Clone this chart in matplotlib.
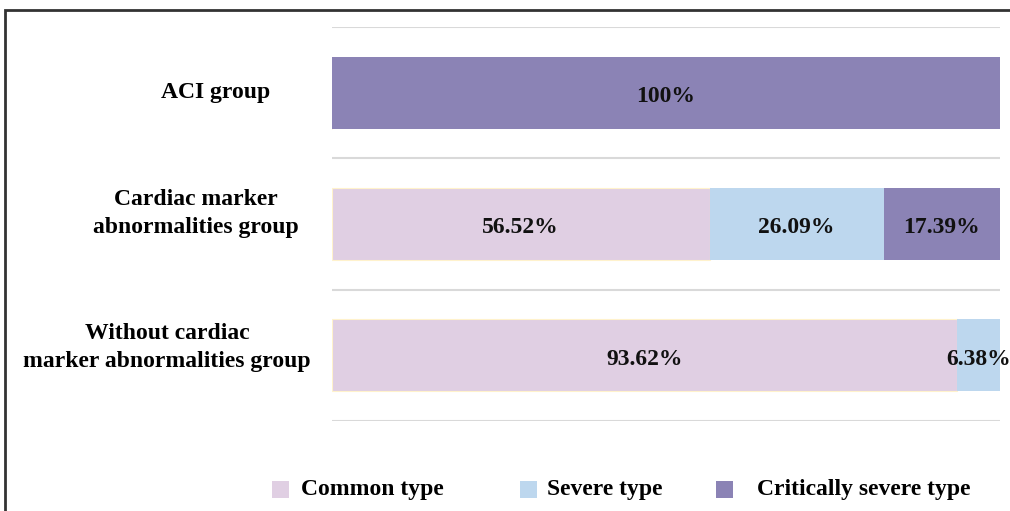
import matplotlib
matplotlib.use('Agg')
import matplotlib.pyplot as plt
from matplotlib.patches import Rectangle
from matplotlib.transforms import blended_transform_factory

# data
groups = ['ACI group',
          'Cardiac marker\nabnormalities group',
          'Without cardiac\nmarker abnormalities group']
series = ['Common type', 'Severe type', 'Critically severe type']
common = [0.0, 56.52, 93.62]
severe = [0.0, 26.09, 6.38]
critical = [100.0, 17.39, 0.0]

COLORS = ['#E0CFE3', '#BDD7EE', '#8B83B5']
EDGES = ['#FFF2CC', 'none', 'none']
# label centres in figure pixels (Excel-like placement)
LABEL_X = [216, 196, 167]
LABEL_DY = [0.0, -0.08, -0.06]
# legend: left edge of each swatch, in figure pixels
LEG_X = [272, 520, 716]
LEG_GAP = [12, 10, 24]

plt.rcParams['font.family'] = ['Liberation Serif', 'DejaVu Serif']
plt.rcParams['font.weight'] = 'bold'

W, H = 1010, 511
fig = plt.figure(figsize=(W / 100, H / 100), dpi=100)
ax = fig.add_axes([332 / W, 1 - 421 / H, (1000 - 332) / W, (421 - 27) / H])

ys = list(range(len(groups)))
left = [0.0] * len(groups)
for vals, col, ec, name in zip([common, severe, critical], COLORS, EDGES, series):
    ax.barh(ys, vals, left=left, height=0.55, color=col, edgecolor=ec,
            linewidth=0.8, label=name, zorder=3)
    for y, v, l in zip(ys, vals, left):
        if v > 0:
            txt = f'{v:g}%' if v == 100 else f'{v:.2f}%'
            ax.text(l + v / 2, y + 0.03, txt, ha='center', va='center',
                    fontsize=17, fontweight='bold', color='#111111', zorder=4)
    left = [a + b for a, b in zip(left, vals)]

ax.set_xlim(0, 100)
ax.set_ylim(len(groups) - 0.5, -0.5)
ax.set_xticks([])
ax.set_yticks([])
ax.set_yticks([i - 0.5 for i in range(len(groups) + 1)], minor=True)
ax.tick_params(which='both', length=0)
ax.grid(which='minor', axis='y', color='#D9D9D9', linewidth=1.5, zorder=0)
for s in ax.spines.values():
    s.set_visible(False)

trans = blended_transform_factory(fig.transFigure, ax.transData)
for y, g, px, dy in zip(ys, groups, LABEL_X, LABEL_DY):
    ax.text(px / W, y + dy, g, transform=trans,
            ha='center', va='center', multialignment='center',
            fontsize=17, fontweight='bold', linespacing=1.45)

# legend drawn by hand to get the uneven Excel spacing
ly = 1 - 489 / H
sw = 17
for x0, gap, col, name in zip(LEG_X, LEG_GAP, COLORS, series):
    fig.patches.append(Rectangle((x0 / W, ly - sw / 2 / H), sw / W, sw / H,
                                 transform=fig.transFigure, facecolor=col,
                                 edgecolor='none'))
    fig.text((x0 + sw + gap) / W, ly, name, ha='left', va='center',
             fontsize=17, fontweight='bold')

# outer chart border (cut off at right and bottom like the source)
fig.patches.append(Rectangle((4.5 / W, -0.1), 1.2, 1 - 10 / H + 0.1,
                             transform=fig.transFigure, fill=False,
                             edgecolor='#333333', linewidth=2))

fig.savefig('out.png', dpi=100, facecolor='white')
